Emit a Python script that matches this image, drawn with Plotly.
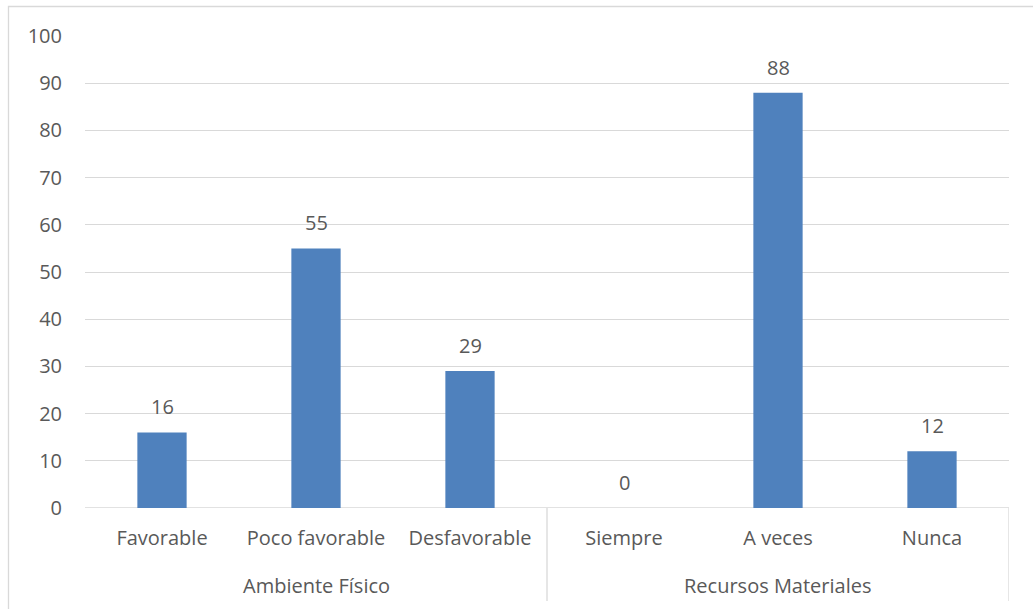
import plotly.graph_objects as go

categories = ["Favorable", "Poco favorable", "Desfavorable", "Siempre", "A veces", "Nunca"]
values = [16, 55, 29, 0, 88, 12]
groups = ["Ambiente Físico", "Recursos Materiales"]
group_sizes = [3, 3]
y_ticks = list(range(0, 101, 10))

BAR = "#4F81BD"
GRID = "#D9D9D9"
TXT = "#595959"
FONT = "Open Sans"

fig = go.Figure()
fig.add_trace(go.Bar(
    x=list(range(len(categories))), y=values,
    marker=dict(color=BAR, line=dict(width=0)),
    width=0.32, hoverinfo="skip",
))

# value labels
for i, v in enumerate(values):
    fig.add_annotation(x=i, y=v, text=str(v), showarrow=False,
                       yanchor="bottom", yshift=10,
                       font=dict(family=FONT, size=20, color=TXT))

# group labels and separators
start = 0
bounds = [-0.5]
for g, n in zip(groups, group_sizes):
    center = start + (n - 1) / 2
    fig.add_annotation(x=center, y=-0.165, xref="x", yref="paper", text=g,
                       showarrow=False, yanchor="middle",
                       font=dict(family=FONT, size=20, color=TXT))
    start += n
    bounds.append(start - 0.5)

for j, b in enumerate(bounds):
    bx = b - 0.04 if j == 0 else b
    fig.add_shape(type="line", xref="x", yref="paper", x0=bx, x1=bx, y0=0, y1=-0.197,
                  line=dict(color=GRID, width=1.3), layer="below")
fig.add_shape(type="line", xref="x", yref="y", x0=bounds[0] - 0.04, x1=bounds[-1], y0=0, y1=0,
              line=dict(color=GRID, width=1.3), layer="below")

# chart border
fig.add_shape(type="rect", xref="paper", yref="paper", x0=-0.0828, x1=1.04, y0=-0.25, y1=1.0625,
              line=dict(color=GRID, width=1.3), fillcolor="rgba(0,0,0,0)", layer="below")

fig.update_layout(
    width=1033, height=609,
    margin=dict(l=85, r=24, t=36, b=101),
    paper_bgcolor="white", plot_bgcolor="white",
    showlegend=False,
    font=dict(family=FONT, size=20, color=TXT),
    xaxis=dict(
        tickmode="array", tickvals=list(range(len(categories))), ticktext=categories,
        range=[-0.5, len(categories) - 0.5],
        showgrid=False, zeroline=False, showline=False,
        ticks="outside", ticklen=12, tickcolor="rgba(0,0,0,0)",
        tickfont=dict(family=FONT, size=20, color=TXT),
        fixedrange=True,
    ),
    yaxis=dict(
        range=[0, 100], tickmode="array", tickvals=y_ticks,
        showgrid=True, gridcolor=GRID, gridwidth=1.3,
        zeroline=False, showline=False,
        ticks="outside", ticklen=18, tickcolor="rgba(0,0,0,0)",
        tickfont=dict(family=FONT, size=20, color=TXT),
        fixedrange=True,
    ),
)

fig.write_html("out.html", config={"displayModeBar": False},
               post_script="document.body.style.margin='0';document.body.style.overflow='hidden';")
